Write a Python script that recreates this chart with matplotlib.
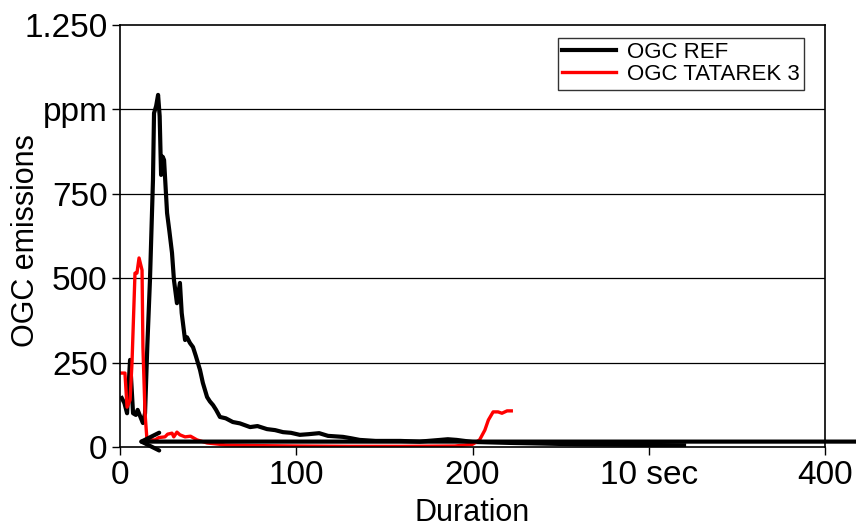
import matplotlib
matplotlib.use("Agg")
import matplotlib.pyplot as plt

plt.rcParams['font.family'] = ['Liberation Sans', 'DejaVu Sans']

# -------------------------------------------------
# Data
# -------------------------------------------------
ref_x = [1, 2.5, 4, 5.7, 7.4, 9, 10, 11.5, 13, 14.2, 15.5, 17, 18.7, 19.3,
         20.5, 21.6, 22.5, 23.0, 23.3, 24.2, 25, 26.7, 28, 29.5, 30.6, 32.3,
         34, 35, 36.9, 38, 39.7, 41.4, 43, 45.4, 47, 49.4, 51, 52.8, 54.5,
         56.7, 60, 64, 68, 73.8, 78, 83.4, 88, 92.5, 97, 102, 107, 113, 118,
         126.5, 131, 136, 145, 159, 170, 181.6, 186, 191, 200, 222, 260, 320]
ref_y = [145, 130, 100, 258, 100, 95, 110, 90, 71, 100, 300, 495, 791, 989,
         1010, 1043, 980, 870, 806, 860, 850, 693, 640, 575, 495, 426,
         486, 397, 317, 325, 308, 296, 270, 228, 190, 148, 135, 124, 110,
         89, 85, 74, 70, 59, 62, 53, 50, 44, 42, 36, 38, 41, 33,
         30, 26, 21, 18, 18, 16, 21, 23, 21, 15, 12, 8, 5]

red_x = [1, 2.8, 4, 5.7, 6.8, 8.5, 9.6, 10.8, 12.5, 13, 14.2, 15.3, 19.9,
         22, 25.5, 27, 29.5, 30.5, 32.3, 34, 36.9, 40, 43.7, 49.4, 60, 80,
         100, 130, 160, 190, 200, 204, 207, 209, 211.7, 214.5, 216.7, 219.6, 222]
red_y = [219, 219, 118, 139, 249, 515, 515, 560, 524, 296, 100, 21, 21,
         28, 30, 38, 41, 30, 44, 36, 30, 32, 21, 12, 6, 4,
         3, 2, 2, 3, 8, 21, 50, 80, 104, 104, 100, 107, 107]

x_ticks = [0, 100, 200, 300, 400]
x_labels = ['0', '100', '200', '10 sec', '400']
y_ticks = [0, 250, 500, 750, 1000, 1250]
y_labels = ['0', '250', '500', '750', 'ppm', '1.250']

# -------------------------------------------------
# Figure
# -------------------------------------------------
fig = plt.figure(figsize=(8.56, 5.30), dpi=100)
ax = fig.add_axes([0.1402, 0.1566, 0.8236, 0.7962])

ax.plot(ref_x, ref_y, color='black', lw=3.0, label='OGC REF',
        solid_joinstyle='round')
ax.plot(red_x, red_y, color='red', lw=2.4, label='OGC TATAREK 3',
        solid_joinstyle='round')

# arrow drawn over the chart (runs past the right edge)
ax.annotate('', xy=(9.5, 16), xytext=(420, 16),
            arrowprops=dict(arrowstyle='->', lw=3, color='black',
                            mutation_scale=32, shrinkA=0, shrinkB=0),
            annotation_clip=False)

ax.set_xlim(0, 400)
ax.set_ylim(0, 1250)
ax.set_xticks(x_ticks)
ax.set_xticklabels(x_labels)
ax.set_yticks(y_ticks)
ax.set_yticklabels(y_labels)
ax.tick_params(direction='out', length=6, width=1, labelsize=24, pad=3)
for s in ax.spines.values():
    s.set_linewidth(1.2)

for yv in y_ticks[1:-1]:
    ax.axhline(yv, color='black', lw=0.9, zorder=0)

ax.set_xlabel('Duration', fontsize=22)
ax.set_ylabel('OGC emissions', fontsize=22)
ax.xaxis.set_label_coords(0.5, -0.122)
ax.yaxis.set_label_coords(-0.112, 0.49)

leg = ax.legend(loc='upper right', bbox_to_anchor=(0.97, 0.97),
                fontsize=16, frameon=True, fancybox=False,
                edgecolor='black', handlelength=2.4, borderpad=0.2,
                labelspacing=0.05, handletextpad=0.5, borderaxespad=0)
leg.get_frame().set_linewidth(1.0)

fig.savefig('out.png', dpi=100)
